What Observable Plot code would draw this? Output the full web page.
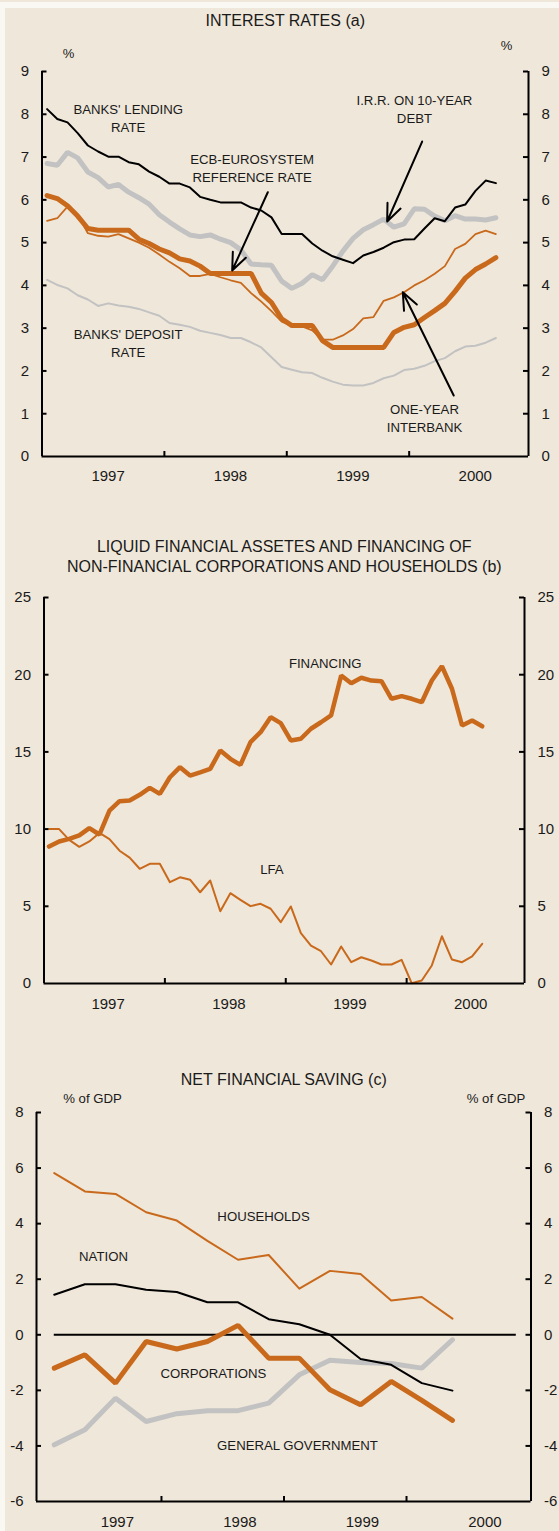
<!DOCTYPE html>
<html><head><meta charset="utf-8">
<script src="https://cdn.jsdelivr.net/npm/d3@7"></script>
<script src="https://cdn.jsdelivr.net/npm/@observablehq/plot@0.6"></script>
<style>
html,body{margin:0;padding:0;background:#FAF8F3;}
#page{position:relative;width:559px;height:1531px;overflow:hidden;background:#FAF8F3;}
#bg{position:absolute;left:5px;top:8px;right:0;bottom:0;background:#EFE7D9;}
#topline{position:absolute;left:0;top:0;right:0;height:2px;background:#EFE7D9;}
svg{font-family:"Liberation Sans",Arial,sans-serif;}
</style></head><body>
<div id="page"><div id="topline"></div><div id="bg"></div></div>
<script>
// ---------- DATA ----------
// Panel (a): monthly, Jan 1997 - Sep 2000 (plotted mid-month)
const rateMonthCount = 45;
const lendingRate = [8.12,7.89,7.81,7.56,7.27,7.13,7.01,7.01,6.88,6.83,6.66,6.54,6.38,6.38,6.29,6.07,6.00,5.94,5.94,5.94,5.82,5.75,5.59,5.20,5.20,5.20,4.98,4.81,4.68,4.60,4.52,4.70,4.78,4.88,5.01,5.07,5.08,5.33,5.57,5.50,5.82,5.89,6.21,6.45,6.39];
const irr10Year = [6.85,6.81,7.11,6.98,6.65,6.52,6.30,6.36,6.18,6.05,5.90,5.65,5.48,5.32,5.18,5.14,5.18,5.08,5.00,4.83,4.50,4.48,4.47,4.10,3.93,4.05,4.25,4.13,4.45,4.80,5.10,5.30,5.42,5.55,5.36,5.44,5.79,5.78,5.62,5.51,5.63,5.55,5.55,5.53,5.58];
const ecbRate = [6.10,6.03,5.86,5.62,5.33,5.29,5.29,5.29,5.29,5.08,4.98,4.85,4.76,4.62,4.57,4.45,4.28,4.28,4.28,4.28,4.28,3.82,3.60,3.22,3.06,3.06,3.06,2.71,2.55,2.55,2.55,2.55,2.55,2.55,2.90,3.02,3.08,3.25,3.41,3.58,3.86,4.17,4.37,4.50,4.65];
const interbank1Y = [5.51,5.57,5.84,5.65,5.22,5.16,5.14,5.20,5.10,5.00,4.88,4.72,4.55,4.40,4.22,4.22,4.27,4.19,4.12,4.06,3.82,3.62,3.40,3.15,3.05,3.04,2.95,2.73,2.73,2.83,2.98,3.23,3.26,3.64,3.72,3.84,4.00,4.12,4.27,4.45,4.85,4.97,5.20,5.28,5.20];
const depositRate = [4.13,4.01,3.93,3.77,3.67,3.52,3.58,3.53,3.50,3.45,3.37,3.29,3.12,3.08,3.03,2.94,2.89,2.84,2.77,2.77,2.67,2.55,2.32,2.09,2.03,1.97,1.95,1.84,1.75,1.68,1.66,1.66,1.72,1.83,1.89,2.02,2.05,2.12,2.23,2.30,2.46,2.57,2.59,2.66,2.77];
const ratesTicks = [0,1,2,3,4,5,6,7,8,9];

// Panel (b): monthly, Jan 1997 - Aug 2000
const financing = [8.87,9.20,9.37,9.59,10.06,9.65,11.20,11.81,11.85,12.22,12.67,12.28,13.36,14.01,13.47,13.68,13.90,15.09,14.55,14.16,15.63,16.28,17.25,16.86,15.74,15.85,16.50,16.92,17.36,19.95,19.45,19.80,19.62,19.58,18.44,18.61,18.44,18.22,19.62,20.55,19.09,16.71,17.03,16.66];
const lfa = [10.0,10.0,9.30,8.85,9.20,9.75,9.35,8.60,8.15,7.43,7.75,7.75,6.56,6.88,6.72,5.91,6.67,4.68,5.85,5.42,5.01,5.16,4.84,3.97,4.99,3.26,2.46,2.09,1.23,2.40,1.38,1.70,1.49,1.23,1.23,1.53,0.02,0.19,1.17,3.06,1.55,1.38,1.75,2.57];
const lfaTicks = [0,5,10,15,20,25];

// Panel (c): quarterly, 1997 Q1 - 2000 Q2, % of GDP
const households = [5.82,5.16,5.07,4.41,4.11,3.38,2.70,2.87,1.66,2.30,2.19,1.23,1.36,0.58];
const nation = [1.44,1.82,1.82,1.62,1.54,1.17,1.17,0.56,0.38,0.00,-0.87,-1.08,-1.74,-2.01];
const corporations = [-1.20,-0.72,-1.74,-0.24,-0.51,-0.24,0.34,-0.84,-0.84,-1.98,-2.52,-1.68,-2.36,-3.08];
const generalGov = [-3.96,-3.42,-2.28,-3.12,-2.84,-2.73,-2.73,-2.46,-1.44,-0.92,-1.00,-1.03,-1.20,-0.18];
const savingTicks = [-6,-4,-2,0,2,4,6,8];

const years = [1997,1998,1999,2000];
const yearBoundaries = [1998,1999,2000];

// ---------- HELPERS ----------
const ORANGE = "#C8691C", GREY = "#C2C2C2", INK = "#1a1a1a";
const FONT = '"Liberation Sans", Arial, sans-serif';
const monthX = i => 1997 + (i + 0.5) / 12;
const quarterX = i => 1997 + (i + 0.5) / 4;
const series = (vals, xf) => vals.map((v, i) => ({x: xf(i), y: v}));

function axisMarks(xDomain, yTicks, plotW, plotH, yearOffset, yearDy) {
  return [
    Plot.ruleX([xDomain[0], xDomain[1]], {stroke: "#000", strokeWidth: 2}),
    Plot.ruleY([yTicks[0]], {stroke: "#000", strokeWidth: 2}),
    Plot.tickY(yTicks.slice(1), {y: d => d, insetRight: plotW - 5, stroke: "#000", strokeWidth: 2}),
    Plot.tickY(yTicks.slice(1), {y: d => d, insetLeft: plotW - 5, stroke: "#000", strokeWidth: 2}),
    Plot.tickX(yearBoundaries, {x: d => d, insetTop: plotH - 5, stroke: "#000", strokeWidth: 2}),
    Plot.text(yTicks, {y: d => d, text: d => String(d), frameAnchor: "left", dx: -13, textAnchor: "end", fontSize: 15, fill: INK}),
    Plot.text(yTicks, {y: d => d, text: d => String(d), frameAnchor: "right", dx: 13, textAnchor: "start", fontSize: 15, fill: INK}),
    Plot.text(years, {x: d => d + yearOffset, text: d => String(d), frameAnchor: "bottom", dy: yearDy, fontSize: 15, fill: INK})
  ];
}

function panel({top, height, mt, mb, ml, mr, xDomain, yDomain, marks}) {
  const svg = Plot.plot({
    width: 559, height,
    marginTop: mt, marginBottom: mb, marginLeft: ml, marginRight: mr,
    x: {domain: xDomain, axis: null},
    y: {domain: yDomain, axis: null},
    style: {background: "transparent", fontFamily: FONT, overflow: "visible"},
    marks
  });
  svg.style.position = "absolute";
  svg.style.left = "0px";
  svg.style.top = top + "px";
  document.getElementById("page").appendChild(svg);
}

const lbl = {fontSize: 13.2, fill: INK, lineHeight: 1.38, lineAnchor: "middle"};

// ---------- PANEL (a) ----------
{
  const xDomain = [1997, 2000.975], yDomain = [0, 9];
  const ml = 41.5, mr = 31, mt = 71, mb = 49, height = 505;
  const plotW = 559 - ml - mr, plotH = height - mt - mb;
  panel({top: 0, height, mt, mb, ml, mr, xDomain, yDomain, marks: [
    Plot.line(series(irr10Year, monthX), {x: "x", y: "y", stroke: GREY, strokeWidth: 5, strokeLinejoin: "miter"}),
    Plot.line(series(depositRate, monthX), {x: "x", y: "y", stroke: GREY, strokeWidth: 2}),
    Plot.line(series(interbank1Y, monthX), {x: "x", y: "y", stroke: ORANGE, strokeWidth: 1.8}),
    Plot.line(series(ecbRate, monthX), {x: "x", y: "y", stroke: ORANGE, strokeWidth: 5, strokeLinejoin: "miter"}),
    Plot.line(series(lendingRate, monthX), {x: "x", y: "y", stroke: "#000", strokeWidth: 2}),
    ...axisMarks(xDomain, ratesTicks, plotW, plotH, 0.54, 24),
    Plot.text(["INTEREST RATES (a)"], {frameAnchor: "top", dy: -51, fontSize: 16, fill: INK, lineAnchor: "middle"}),
    Plot.text(["%"], {frameAnchor: "top-left", dx: 26.5, dy: -18, fontSize: 13, fill: INK, lineAnchor: "middle", textAnchor: "middle"}),
    Plot.text(["%"], {frameAnchor: "top-right", dx: -22, dy: -26, fontSize: 13, fill: INK, lineAnchor: "middle", textAnchor: "middle"}),
    Plot.text([{x: 1997.704, y: 7.94, t: "BANKS' LENDING\nRATE"}], {x: "x", y: "y", text: "t", ...lbl}),
    Plot.text([{x: 1998.717, y: 6.77, t: "ECB-EUROSYSTEM\nREFERENCE RATE"}], {x: "x", y: "y", text: "t", ...lbl}),
    Plot.text([{x: 2000.043, y: 8.137, t: "I.R.R. ON 10-YEAR\nDEBT"}], {x: "x", y: "y", text: "t", ...lbl}),
    Plot.text([{x: 1997.704, y: 2.67, t: "BANKS' DEPOSIT\nRATE"}], {x: "x", y: "y", text: "t", ...lbl}),
    Plot.text([{x: 2000.125, y: 0.923, t: "ONE-YEAR\nINTERBANK"}], {x: "x", y: "y", text: "t", ...lbl}),
    Plot.arrow([
      {x1: 1998.845, y1: 6.178, x2: 1998.554, y2: 4.348},
      {x1: 2000.106, y1: 7.363, x2: 1999.820, y2: 5.493},
      {x1: 2000.364, y1: 1.426, x2: 1999.948, y2: 3.841}
    ], {x1: "x1", y1: "y1", x2: "x2", y2: "y2", stroke: "#000", strokeWidth: 2, headLength: 14, headAngle: 45})
  ]});
}

// ---------- PANEL (b) ----------
{
  const xDomain = [1997, 2000.975], yDomain = [0, 25];
  const ml = 43.5, mr = 35, mt = 92, mb = 57, height = 535;
  const plotW = 559 - ml - mr, plotH = height - mt - mb;
  panel({top: 505, height, mt, mb, ml, mr, xDomain, yDomain, marks: [
    Plot.line(series(lfa, monthX), {x: "x", y: "y", stroke: ORANGE, strokeWidth: 2}),
    Plot.line(series(financing, monthX), {x: "x", y: "y", stroke: ORANGE, strokeWidth: 4.5, strokeLinejoin: "miter"}),
    ...axisMarks(xDomain, lfaTicks, plotW, plotH, 0.53, 25),
    Plot.text(["LIQUID FINANCIAL ASSETES AND FINANCING OF\nNON-FINANCIAL CORPORATIONS AND HOUSEHOLDS (b)"], {frameAnchor: "top", dy: -42, fontSize: 16, fill: INK, lineHeight: 1.25, lineAnchor: "middle"}),
    Plot.text([{x: 1999.326, y: 20.79, t: "FINANCING"}], {x: "x", y: "y", text: "t", ...lbl}),
    Plot.text([{x: 1998.885, y: 7.45, t: "LFA"}], {x: "x", y: "y", text: "t", ...lbl})
  ]});
}

// ---------- PANEL (c) ----------
{
  const xDomain = [1996.98, 2001.016], yDomain = [-6, 8];
  const ml = 36, mr = 28.5, mt = 72, mb = 30, height = 491;
  const plotW = 559 - ml - mr, plotH = height - mt - mb;
  panel({top: 1040, height, mt, mb, ml, mr, xDomain, yDomain, marks: [
    Plot.ruleY([0], {x1: quarterX(0), x2: xDomain[1] - 0.12, stroke: "#000", strokeWidth: 2}),
    Plot.line(series(generalGov, quarterX), {x: "x", y: "y", stroke: GREY, strokeWidth: 5, strokeLinejoin: "miter"}),
    Plot.line(series(households, quarterX), {x: "x", y: "y", stroke: ORANGE, strokeWidth: 2}),
    Plot.line(series(nation, quarterX), {x: "x", y: "y", stroke: "#000", strokeWidth: 2}),
    Plot.line(series(corporations, quarterX), {x: "x", y: "y", stroke: ORANGE, strokeWidth: 5, strokeLinejoin: "miter"}),
    ...axisMarks(xDomain, savingTicks, plotW, plotH, 0.64, 25),
    Plot.text(["NET FINANCIAL SAVING (c)"], {frameAnchor: "top", dy: -33, fontSize: 16, fill: INK, lineAnchor: "middle"}),
    Plot.text(["% of GDP"], {frameAnchor: "top-left", dx: 56, dy: -14, fontSize: 13.2, fill: INK, lineAnchor: "middle", textAnchor: "middle"}),
    Plot.text(["% of GDP"], {frameAnchor: "top-right", dx: -35, dy: -14, fontSize: 13.2, fill: INK, lineAnchor: "middle", textAnchor: "middle"}),
    Plot.text([{x: 1998.833, y: 4.32, t: "HOUSEHOLDS"}], {x: "x", y: "y", text: "t", ...lbl}),
    Plot.text([{x: 1997.527, y: 2.88, t: "NATION"}], {x: "x", y: "y", text: "t", ...lbl}),
    Plot.text([{x: 1998.424, y: -1.33, t: "CORPORATIONS"}], {x: "x", y: "y", text: "t", ...lbl}),
    Plot.text([{x: 1999.110, y: -3.92, t: "GENERAL GOVERNMENT"}], {x: "x", y: "y", text: "t", ...lbl})
  ]});
}
</script>
</body></html>
